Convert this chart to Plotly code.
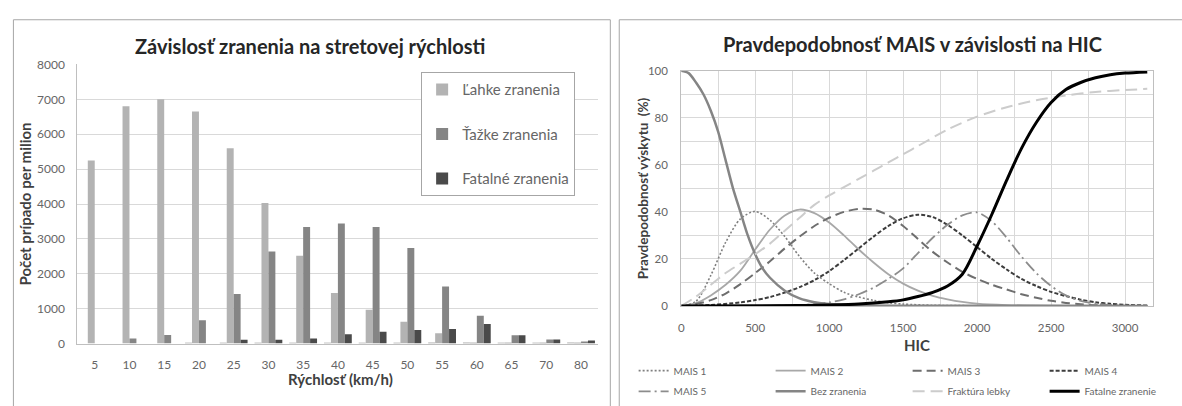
import plotly.graph_objects as go

# ---------------- Left panel: injuries vs. impact speed ----------------
rychlost = ["5", "10", "15", "20", "25", "30", "35", "40", "45", "50", "55", "60", "65", "70", "80"]
ostatne = [0, 0, 0, 20, 25, 25, 25, 30, 30, 30, 40, 40, 30, 30, 40]
lahke = [5250, 6800, 7000, 6650, 5600, 4030, 2520, 1450, 970, 630, 300, 20, 10, 10, 10]
tazke = [0, 150, 250, 670, 1420, 2640, 3340, 3440, 3340, 2740, 1640, 800, 240, 120, 60]
fatalne = [0, 0, 0, 0, 110, 110, 150, 270, 340, 390, 420, 560, 240, 120, 90]

# ---------------- Right panel: MAIS probability vs. HIC ----------------
hic_mais1 = [0, 100, 200, 300, 400, 500, 600, 700, 800, 900, 1000, 1100, 1200, 1300, 1400, 1500, 1700, 2000, 2500, 3150]
p_mais1 = [0, 2, 13, 27, 37, 40.2, 36.5, 29.5, 21, 14, 9.5, 5.8, 3.8, 2.4, 1.4, 0.8, 0.3, 0.1, 0, 0]

hic_mais2 = [0, 100, 200, 300, 400, 500, 600, 700, 800, 900, 1000, 1100, 1200, 1300, 1400, 1500, 1600, 1700, 1800, 1900, 2000, 2200, 2500, 3150]
p_mais2 = [0, 1.2, 4.5, 9, 15, 24, 32.5, 38.5, 41, 39.5, 35.5, 30, 24, 18.5, 13.5, 9.5, 6.5, 4.3, 2.8, 1.7, 1, 0.4, 0.1, 0]

hic_mais3 = [0, 100, 200, 300, 400, 500, 600, 700, 800, 900, 1000, 1100, 1200, 1300, 1400, 1500, 1600, 1700, 1800, 1900, 2000, 2100, 2200, 2300, 2400, 2500, 2600, 2700, 2800, 3000, 3150]
p_mais3 = [0, 0.8, 2.5, 5.3, 9.3, 14, 19, 24.5, 29.5, 34, 37.5, 40, 41.3, 41, 38.5, 34, 28.5, 23, 18.5, 14.5, 11.5, 9, 7, 5, 3.5, 2.2, 1.3, 0.7, 0.3, 0, 0]

hic_mais4 = [0, 200, 400, 500, 600, 700, 800, 900, 1000, 1100, 1200, 1300, 1400, 1500, 1600, 1700, 1800, 1900, 2000, 2100, 2200, 2300, 2400, 2500, 2600, 2700, 2800, 2900, 3000, 3150]
p_mais4 = [0, 0.4, 1.5, 2.5, 3.8, 5.7, 8, 11, 14.8, 19.5, 24.5, 29.5, 34, 37.3, 38.8, 37.8, 34.5, 30, 25, 20, 15.5, 11.5, 8.5, 6, 4.2, 2.7, 1.6, 0.9, 0.5, 0.2]

hic_mais5 = [0, 600, 800, 900, 1000, 1100, 1200, 1300, 1400, 1500, 1600, 1700, 1800, 1900, 2000, 2100, 2200, 2300, 2400, 2500, 2600, 2700, 2800, 2900, 3000, 3150]
p_mais5 = [0, 0.05, 0.3, 0.8, 1.5, 2.8, 5, 7.8, 11.5, 16, 22.5, 29, 34.5, 38.5, 39.8, 36, 29, 21, 14, 8.5, 4.5, 2.2, 1, 0.4, 0.1, 0]

hic_bez = [0, 50, 100, 150, 200, 250, 300, 350, 400, 450, 500, 550, 600, 700, 800, 900, 1000, 1200, 1500, 3150]
p_bez = [100, 99, 95, 90, 83, 74, 62, 50, 40, 30, 22, 16, 12, 6.5, 3.2, 1.6, 0.8, 0.3, 0.1, 0]

hic_frakt = [0, 100, 200, 300, 400, 500, 600, 700, 800, 900, 1000, 1100, 1200, 1300, 1400, 1500, 1600, 1800, 2000, 2200, 2400, 2600, 2800, 3000, 3150]
p_frakt = [0, 4, 9, 14, 18, 22, 26.5, 32, 37.5, 43, 47, 50.5, 54, 57.5, 61, 64.5, 68, 75, 80.5, 84.5, 87.5, 89.5, 91, 91.8, 92.3]

hic_fatal = [0, 800, 1000, 1200, 1400, 1500, 1600, 1700, 1800, 1900, 2000, 2100, 2200, 2300, 2400, 2500, 2600, 2700, 2800, 2900, 3000, 3150]
p_fatal = [0, 0.2, 0.4, 0.8, 1.8, 2.6, 4, 5.8, 8.5, 13.5, 25.5, 39, 53.5, 67, 78, 86.5, 92, 95, 97, 98.3, 99, 99.5]

W, H = 1182, 406
FONT = "Lato, 'Open Sans', sans-serif"
GRID = "#d9d9d9"
TICK = "#666666"


def px_x(x):
    return x / W


def px_y(y):
    return 1 - y / H


fig = go.Figure()

# bars
bar_series = [
    (None, ostatne, "#c4c4c4"),
    ("Ľahke zranenia", lahke, "#b3b3b3"),
    ("Ťažke zranenia", tazke, "#858585"),
    ("Fatalné zranenia", fatalne, "#4a4a4a"),
]
for i, (name, vals, col) in enumerate(bar_series):
    fig.add_trace(go.Bar(
        x=rychlost, y=vals, name=name or "", marker=dict(color=col, line=dict(width=0)),
        showlegend=name is not None, legendgroup=f"g{i}", legend="legend",
        xaxis="x", yaxis="y",
    ))

# curves
curves = [
    ("MAIS 1", hic_mais1, p_mais1, dict(color="#808080", width=1.6, dash="2px,2px"), "legend2"),
    ("MAIS 2", hic_mais2, p_mais2, dict(color="#a8a8a8", width=1.8), "legend2"),
    ("MAIS 3", hic_mais3, p_mais3, dict(color="#6e6e6e", width=2, dash="9px,5px"), "legend2"),
    ("MAIS 4", hic_mais4, p_mais4, dict(color="#3d3d3d", width=2, dash="4px,2px"), "legend2"),
    ("MAIS 5", hic_mais5, p_mais5, dict(color="#8c8c8c", width=1.8, dash="12px,4px,2px,4px"), "legend3"),
    ("Bez zranenia", hic_bez, p_bez, dict(color="#858585", width=2.5), "legend3"),
    ("Fraktúra lebky", hic_frakt, p_frakt, dict(color="#cccccc", width=2, dash="12px,6px"), "legend3"),
    ("Fatalne zranenie", hic_fatal, p_fatal, dict(color="#000000", width=3), "legend3"),
]
for name, xs, ys, line, lg in curves:
    fig.add_trace(go.Scatter(
        x=xs, y=ys, name=name, mode="lines",
        line=dict(shape="spline", smoothing=0.8, **line),
        legend=lg, xaxis="x2", yaxis="y2",
    ))

left_ticks = dict(family=FONT, size=12, color=TICK)
right_ticks = dict(family=FONT, size=11.5, color=TICK)

fig.update_layout(
    width=W, height=H,
    margin=dict(l=0, r=0, t=0, b=0),
    paper_bgcolor="white", plot_bgcolor="white",
    font=dict(family=FONT, color="#404040"),
    barmode="group", bargap=0.2, bargroupgap=0,
    xaxis=dict(
        domain=[px_x(75), px_x(600.5)], type="category",
        showgrid=False, showline=True, linecolor="#bfbfbf", linewidth=1,
        ticks="", tickfont=left_ticks, ticklabelstandoff=10, anchor="y",
    ),
    yaxis=dict(
        domain=[px_y(356.7), px_y(60)], range=[0, 8000], dtick=1000,
        showgrid=True, gridcolor=GRID, gridwidth=1, zeroline=False,
        showline=True, linecolor="#bfbfbf", linewidth=1,
        ticks="", tickfont=left_ticks, ticklabelstandoff=9, anchor="x",
    ),
    xaxis2=dict(
        domain=[px_x(684), px_x(1160)], range=[0, 3190], dtick=500, tick0=0,
        showgrid=True, gridcolor=GRID, zeroline=False,
        minor=dict(dtick=250, showgrid=True, gridcolor=GRID),
        showline=True, mirror=True, linecolor="#bfbfbf", linewidth=1,
        ticks="", tickfont=right_ticks, ticklabelstandoff=11, anchor="y2",
    ),
    yaxis2=dict(
        domain=[px_y(316.7), px_y(66.7)], range=[0, 100], dtick=20,
        showgrid=True, gridcolor=GRID, zeroline=False,
        minor=dict(dtick=10, showgrid=True, gridcolor=GRID),
        showline=True, mirror=True, linecolor="#bfbfbf", linewidth=1,
        ticks="", tickfont=right_ticks, ticklabelstandoff=10, anchor="x2",
    ),
    legend=dict(
        x=px_x(421.7), y=px_y(68.3), xanchor="left", yanchor="top",
        bgcolor="white", bordercolor="#a6a6a6", borderwidth=1,
        font=dict(family=FONT, size=15, color=TICK),
        tracegroupgap=22, traceorder="grouped",
    ),
    legend2=dict(
        orientation="h", x=px_x(636), y=px_y(370), xanchor="left", yanchor="top",
        bgcolor="rgba(0,0,0,0)", entrywidth=92, entrywidthmode="pixels",
        font=dict(family=FONT, size=10, color=TICK), traceorder="normal",
    ),
    legend3=dict(
        orientation="h", x=px_x(636), y=px_y(392), xanchor="left", yanchor="top",
        bgcolor="rgba(0,0,0,0)", entrywidth=92, entrywidthmode="pixels",
        font=dict(family=FONT, size=10, color=TICK), traceorder="normal",
    ),
)

# panel frames
frame = dict(type="rect", xref="paper", yref="paper", line=dict(color="#a6a6a6", width=1),
             fillcolor="rgba(0,0,0,0)", layer="above")
fig.add_shape(x0=px_x(10.5), x1=px_x(612.5), y0=-0.1, y1=px_y(12.5), **frame)
fig.add_shape(x0=px_x(621.5), x1=1.05, y0=-0.1, y1=px_y(12.5), **frame)

# titles
ann = []
ann.append(dict(text="<b>Závislosť zranenia na stretovej rýchlosti</b>", x=px_x(310), y=px_y(40),
                font=dict(family=FONT, size=20, color="#262626")))
ann.append(dict(text="<b>Pravdepodobnosť MAIS v závislosti na HIC</b>", x=px_x(917), y=px_y(38),
                font=dict(family=FONT, size=20, color="#262626")))
ann.append(dict(text="<b>Rýchlosť (km/h)</b>", x=px_x(340), y=px_y(394),
                font=dict(family=FONT, size=15, color="#404040")))
ann.append(dict(text="<b>Počet prípado per milion</b>", x=px_x(22), y=px_y(208), textangle=-90,
                font=dict(family=FONT, size=15, color="#404040")))
ann.append(dict(text="<b>HIC</b>", x=px_x(922), y=px_y(358),
                font=dict(family=FONT, size=15, color="#404040")))
ann.append(dict(text="<b>Pravdepodobnosť výskytu  (%)</b>", x=px_x(645), y=px_y(192), textangle=-90,
                font=dict(family=FONT, size=13.5, color="#404040")))
for a in ann:
    a.update(xref="paper", yref="paper", xanchor="center", yanchor="middle", showarrow=False)
    fig.add_annotation(**a)

# the figure is sized to the page exactly, so drop the default body margin
fig.write_html(
    "out.html",
    post_script="document.body.style.margin='0';document.body.style.padding='0';"
                "document.documentElement.style.overflow='hidden';",
)
